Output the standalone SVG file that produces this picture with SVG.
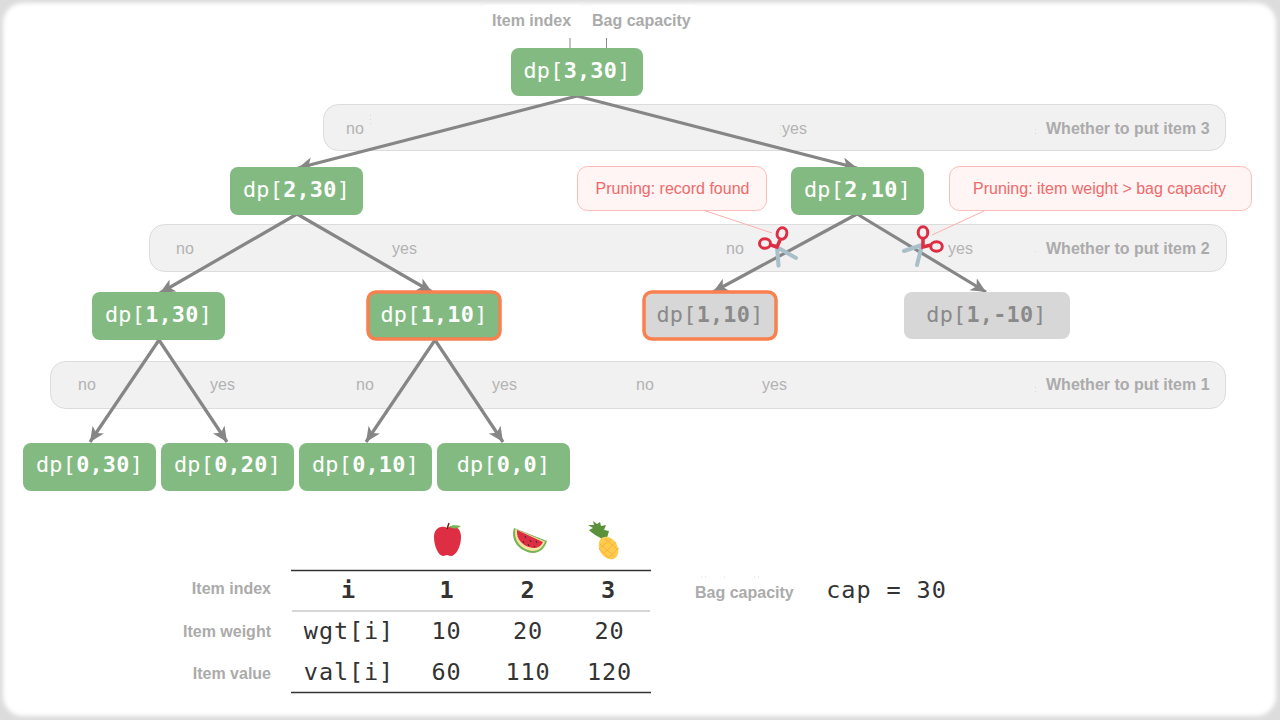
<svg xmlns="http://www.w3.org/2000/svg" width="1280" height="720" viewBox="0 0 1280 720">
<defs>
<marker id="arr" markerUnits="userSpaceOnUse" markerWidth="18" markerHeight="16" refX="15" refY="7" orient="auto"><path d="M0 0L15 7L0 14L4 7Z" fill="#868686"/></marker>
<filter id="soft" x="-5%" y="-5%" width="110%" height="110%"><feGaussianBlur stdDeviation="2"/></filter>
</defs>
<style>
.band{fill:#f1f1f1;stroke:#dcdcdc;stroke-width:1}
.n{fill:#83ba82}
.g{fill:#d7d7d7}
.hl{stroke:#f9804f;stroke-width:3.5}
.m{font-family:"DejaVu Sans Mono",monospace;font-size:21.8px;letter-spacing:.25px;text-anchor:middle;fill:#fff}
.gt{fill:#8a8a8a}
.m tspan{font-weight:700}
.lab{font-family:"Liberation Sans",Arial,sans-serif;font-size:16px;fill:#b3b3b3}
.b{font-family:"Liberation Sans",Arial,sans-serif;font-size:16px;font-weight:700;fill:#ababab}
.r{text-anchor:end}
.c{fill:#fff5f5;stroke:#fdbcb8;stroke-width:1}
.ct{font-family:"Liberation Sans",Arial,sans-serif;font-size:16px;fill:#ef6a6a;text-anchor:middle}
.e{stroke:#868686;stroke-width:3.2;fill:none;marker-end:url(#arr)}
.t{font-family:"DejaVu Sans Mono",monospace;font-size:23.5px;letter-spacing:.9px;text-anchor:middle;fill:#333}
.tb{font-weight:700}
.sp{stroke:#d8d8d8;stroke-width:1;stroke-dasharray:1 3;fill:none}
</style>
<rect width="1280" height="720" fill="#dcdcdc"/>
<rect x="3" y="3" width="1273" height="713" rx="20" fill="#fff" filter="url(#soft)"/>
<g id="bands">
<rect class="band" x="323.500" y="104.500" width="902" height="46" rx="15"/>
<rect class="band" x="149.500" y="224.500" width="1077" height="47" rx="15"/>
<rect class="band" x="50.500" y="361.500" width="1175" height="47" rx="15"/>
<path class="sp" d="M370.500 115V125M780.500 125V135M1035.500 129V136M1035.500 251V254M1035.500 387V394M701 577H707M724 577H728M754 577H760"/>
<text class="lab" x="346" y="134">no</text><text class="lab" x="782" y="134">yes</text>
<text class="b" x="1046" y="134">Whether to put item 3</text>
<text class="lab" x="176" y="254">no</text><text class="lab" x="392" y="254">yes</text><text class="lab" x="726" y="254">no</text><text class="lab" x="948" y="254">yes</text>
<text class="b" x="1046" y="254">Whether to put item 2</text>
<text class="lab" x="78" y="390">no</text><text class="lab" x="210" y="390">yes</text><text class="lab" x="356" y="390">no</text><text class="lab" x="492" y="390">yes</text><text class="lab" x="636" y="390">no</text><text class="lab" x="762" y="390">yes</text>
<text class="b" x="1046" y="390">Whether to put item 1</text>
</g>
<g id="connectors">
<path class="e" d="M577 96L298 168"/>
<path class="e" d="M577 96L857 168"/>
<path class="e" d="M297 214L160 293"/>
<path class="e" d="M297 214L432 292"/>
<path class="e" d="M857 214L713 292"/>
<path class="e" d="M857 214L986 292"/>
<path class="e" d="M159 340L90 442"/>
<path class="e" d="M159 340L227 442"/>
<path class="e" d="M435 340L366 442"/>
<path class="e" d="M435 340L503 442"/>
<path d="M570 38V56M606.500 38V56" stroke="#8a8a8a" stroke-width="1" fill="none"/>
<path d="M703 210L772 233M984 211L932 235" stroke="#fdb0ac" stroke-width="1" fill="none"/>
</g>
<g id="n330"><rect class="n" x="511" y="48" width="132" height="48" rx="8"/><text class="m" x="577" y="78">dp[<tspan>3,30</tspan>]</text></g>
<g id="n230"><rect class="n" x="230" y="167" width="133" height="48" rx="8"/><text class="m" x="296.500" y="197">dp[<tspan>2,30</tspan>]</text></g>
<g id="n210"><rect class="n" x="791" y="167" width="133" height="48" rx="8"/><text class="m" x="857.500" y="197">dp[<tspan>2,10</tspan>]</text></g>
<g id="n130"><rect class="n" x="92" y="292" width="133" height="48" rx="8"/><text class="m" x="158.500" y="322">dp[<tspan>1,30</tspan>]</text></g>
<g id="n110a"><rect class="n hl" x="368" y="292" width="132" height="47" rx="8"/><text class="m" x="434" y="322">dp[<tspan>1,10</tspan>]</text></g>
<g id="n110b"><rect class="g hl" x="644" y="292" width="132" height="47" rx="8"/><text class="m gt" x="710" y="322">dp[<tspan>1,10</tspan>]</text></g>
<g id="n1m10"><rect class="g" x="904" y="292" width="166" height="47" rx="8"/><text class="m gt" x="986.500" y="322">dp[<tspan>1,-10</tspan>]</text></g>
<g id="n030"><rect class="n" x="23" y="443" width="133" height="48" rx="8"/><text class="m" x="89.500" y="472">dp[<tspan>0,30</tspan>]</text></g>
<g id="n020"><rect class="n" x="161" y="443" width="133" height="48" rx="8"/><text class="m" x="227.500" y="472">dp[<tspan>0,20</tspan>]</text></g>
<g id="n010"><rect class="n" x="299" y="443" width="133" height="48" rx="8"/><text class="m" x="365.500" y="472">dp[<tspan>0,10</tspan>]</text></g>
<g id="n00"><rect class="n" x="437" y="443" width="133" height="48" rx="8"/><text class="m" x="503.500" y="472">dp[<tspan>0,0</tspan>]</text></g>
<g id="callout1"><rect class="c" x="577.500" y="166.500" width="189" height="44" rx="10"/><text class="ct" x="672.500" y="194">Pruning: record found</text></g>
<g id="callout2"><rect class="c" x="949.500" y="166.500" width="302" height="44" rx="10"/><text class="ct" x="1099.500" y="194">Pruning: item weight &gt; bag capacity</text></g>
<g id="scissors1">
<path d="M777 247L778.500 265.500M775 246L796 258" stroke="#a9bfca" stroke-width="4" stroke-linecap="round" fill="none"/>
<path d="M780 240L777 247L771 245" stroke="#dd2e44" stroke-width="3.500" fill="none"/>
<ellipse cx="765" cy="243.500" rx="5.500" ry="4.800" fill="none" stroke="#dd2e44" stroke-width="3"/>
<ellipse cx="782" cy="233.500" rx="4.800" ry="5.800" transform="rotate(15 782 233.500)" fill="none" stroke="#dd2e44" stroke-width="3"/>
</g>
<g id="scissors2">
<path d="M922 245L904 251M922 245L917 265" stroke="#a9bfca" stroke-width="4" stroke-linecap="round" fill="none"/>
<path d="M923 239L923 247L931 245" stroke="#dd2e44" stroke-width="3.500" fill="none"/>
<ellipse cx="923" cy="232.500" rx="4.800" ry="5.800" fill="none" stroke="#dd2e44" stroke-width="3"/>
<ellipse cx="936.500" cy="246.500" rx="5.800" ry="4.800" fill="none" stroke="#dd2e44" stroke-width="3"/>
</g>
<g id="labels">
<rect x="484" y="5" width="97" height="33" fill="#fff"/><rect x="590" y="5" width="104" height="33" fill="#fff"/>
<text class="b" x="492" y="26">Item index</text><text class="b" x="592" y="26">Bag capacity</text>
<text class="b r" x="271" y="594">Item index</text><text class="b r" x="271" y="637">Item weight</text><text class="b r" x="271" y="679">Item value</text>
<text class="b" x="695" y="598">Bag capacity</text>
</g>
<g id="fruit">
<path d="M447 528C452 525 461 526 461 537C461 548 455 556 451 556C449 556 448 555 447 555C446 555 445 556 443 556C439 556 434 547 434 537C434 527 443 525 447 528Z" fill="#dd2e44"/>
<path d="M447 529L449 523" stroke="#662113" stroke-width="1.500" fill="none"/>
<path d="M449 527C451 525 456 525 461 526C458 529 453 529 449 527Z" fill="#77b255"/>
<path d="M514 528C510 540 519 552 533 553C540 553 545 548 547 541Z" fill="#77b255"/>
<path d="M515.500 529C513 540 521 550 533 551C539 551 543 547 545 541.500Z" fill="#f4e3a1"/>
<path d="M517 530C516 539 523 547 533 548C538 548 541 546 543 542Z" fill="#dd2e44"/>
<path d="M525 536l1 2M530 540l1 2M536 541l1 2M528 544l1 2M523 541l1 2M534 546l1 1" stroke="#292f33" stroke-width="1"/>
<path d="M606 541C598 537 592 533 589 530L593 528L588 525L594 525L593 521L597 524L600 522L601 526L606 525L604 530L609 531Z" fill="#5c913b"/>
<ellipse cx="608.500" cy="548" rx="9" ry="12" transform="rotate(-30 608.500 548)" fill="#ffcc4d"/>
<path d="M600 544l14 12M605 539l12 10M599 549l10 9M611 539l-12 10M616 542l-12 11M619 548l-10 9" stroke="#f4a63a" stroke-width="1" opacity=".7"/>
</g>
<g id="table">
<path d="M291 570.500H651M291 692.500H651" stroke="#333" stroke-width="1.400"/>
<path d="M292 611H650" stroke="#c8c8c8" stroke-width="1.500"/>
<text class="t tb" x="348.500" y="598">i</text><text class="t tb" x="447" y="598">1</text><text class="t tb" x="528" y="598">2</text><text class="t tb" x="608.500" y="598">3</text>
<text class="t" x="349" y="639">wgt[i]</text><text class="t" x="446.500" y="639">10</text><text class="t" x="528" y="639">20</text><text class="t" x="609.500" y="639">20</text>
<text class="t" x="349" y="680">val[i]</text><text class="t" x="446.500" y="680">60</text><text class="t" x="528" y="680">110</text><text class="t" x="609.500" y="680">120</text>
<text class="t" x="886.500" y="598">cap = 30</text>
</g>
</svg>
